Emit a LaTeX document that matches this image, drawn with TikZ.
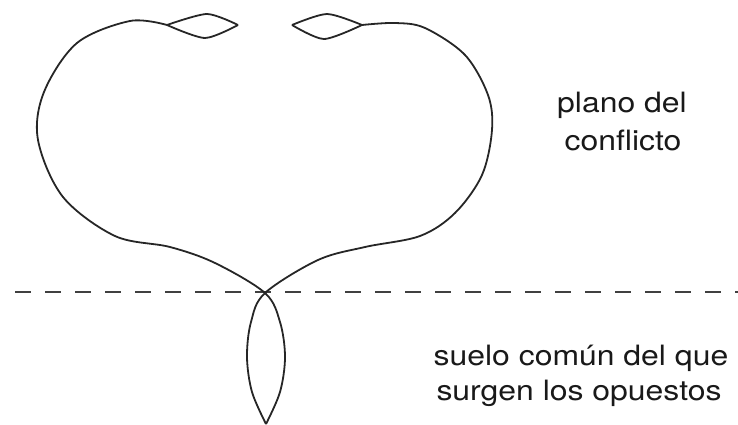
\documentclass[tikz,border=0pt]{standalone}
\usepackage{fontspec}
\newfontfamily\labelfont[FakeStretch=1.14]{TeX Gyre Heros}
\tikzset{
  curva/.style={line width=1.8pt,black!85,line join=round},
  suelo/.style={line width=1.5pt,black!75,dash pattern=on 16pt off 14pt},
  rotulo/.style={anchor=base,font=\labelfont\fontsize{28}{34}\selectfont,text=black!90,inner sep=0pt}
}

\begin{document}
\begin{tikzpicture}[x=1pt,y=-1pt]
\useasboundingbox (0,0) rectangle (738,425);
% ground line
\coordinate (sA) at (15,292);
\coordinate (sB) at (738,292);
\draw[suelo] (sA) -- (sB);
% crossing point and lower tip
\coordinate (cruce) at (265,293);
\coordinate (punta) at (266,424);
% left lobe, through the crossing, right side of the lower loop
\draw[curva] plot[smooth,tension=0.55] coordinates {(167,25) (130,21) (77,43) (44,92) (38,140) (63,197) (115,236) (170,247) (215,263) (265,293) (280,322) (285,357) (280,392) (266,424)};
% right lobe, through the crossing, left side of the lower loop
\draw[curva] plot[smooth,tension=0.55] coordinates {(362,25) (395,23) (425,28) (465,55) (488,95) (492,130) (482,175) (455,213) (420,236) (365,247) (318,260) (265,293) (251,322) (247,357) (252,392) (266,424)};
% small loops at the top
\draw[curva] plot[smooth,tension=0.45] coordinates {(167,25) (207,14) (238,25)};
\draw[curva] plot[smooth,tension=0.45] coordinates {(167,25) (205,38) (238,25)};
\draw[curva] plot[smooth,tension=0.45] coordinates {(292,25) (327,14) (362,25)};
\draw[curva] plot[smooth,tension=0.45] coordinates {(292,25) (324,39) (362,25)};
% labels
\node[rotulo] (plano) at (622,113) {plano del};
\node[rotulo] (conflicto) at (623,150) {conflicto};
\node[rotulo] (comun) at (581,365) {suelo común del que};
\node[rotulo] (surgen) at (579,400) {surgen los opuestos};
\end{tikzpicture}
\end{document}
